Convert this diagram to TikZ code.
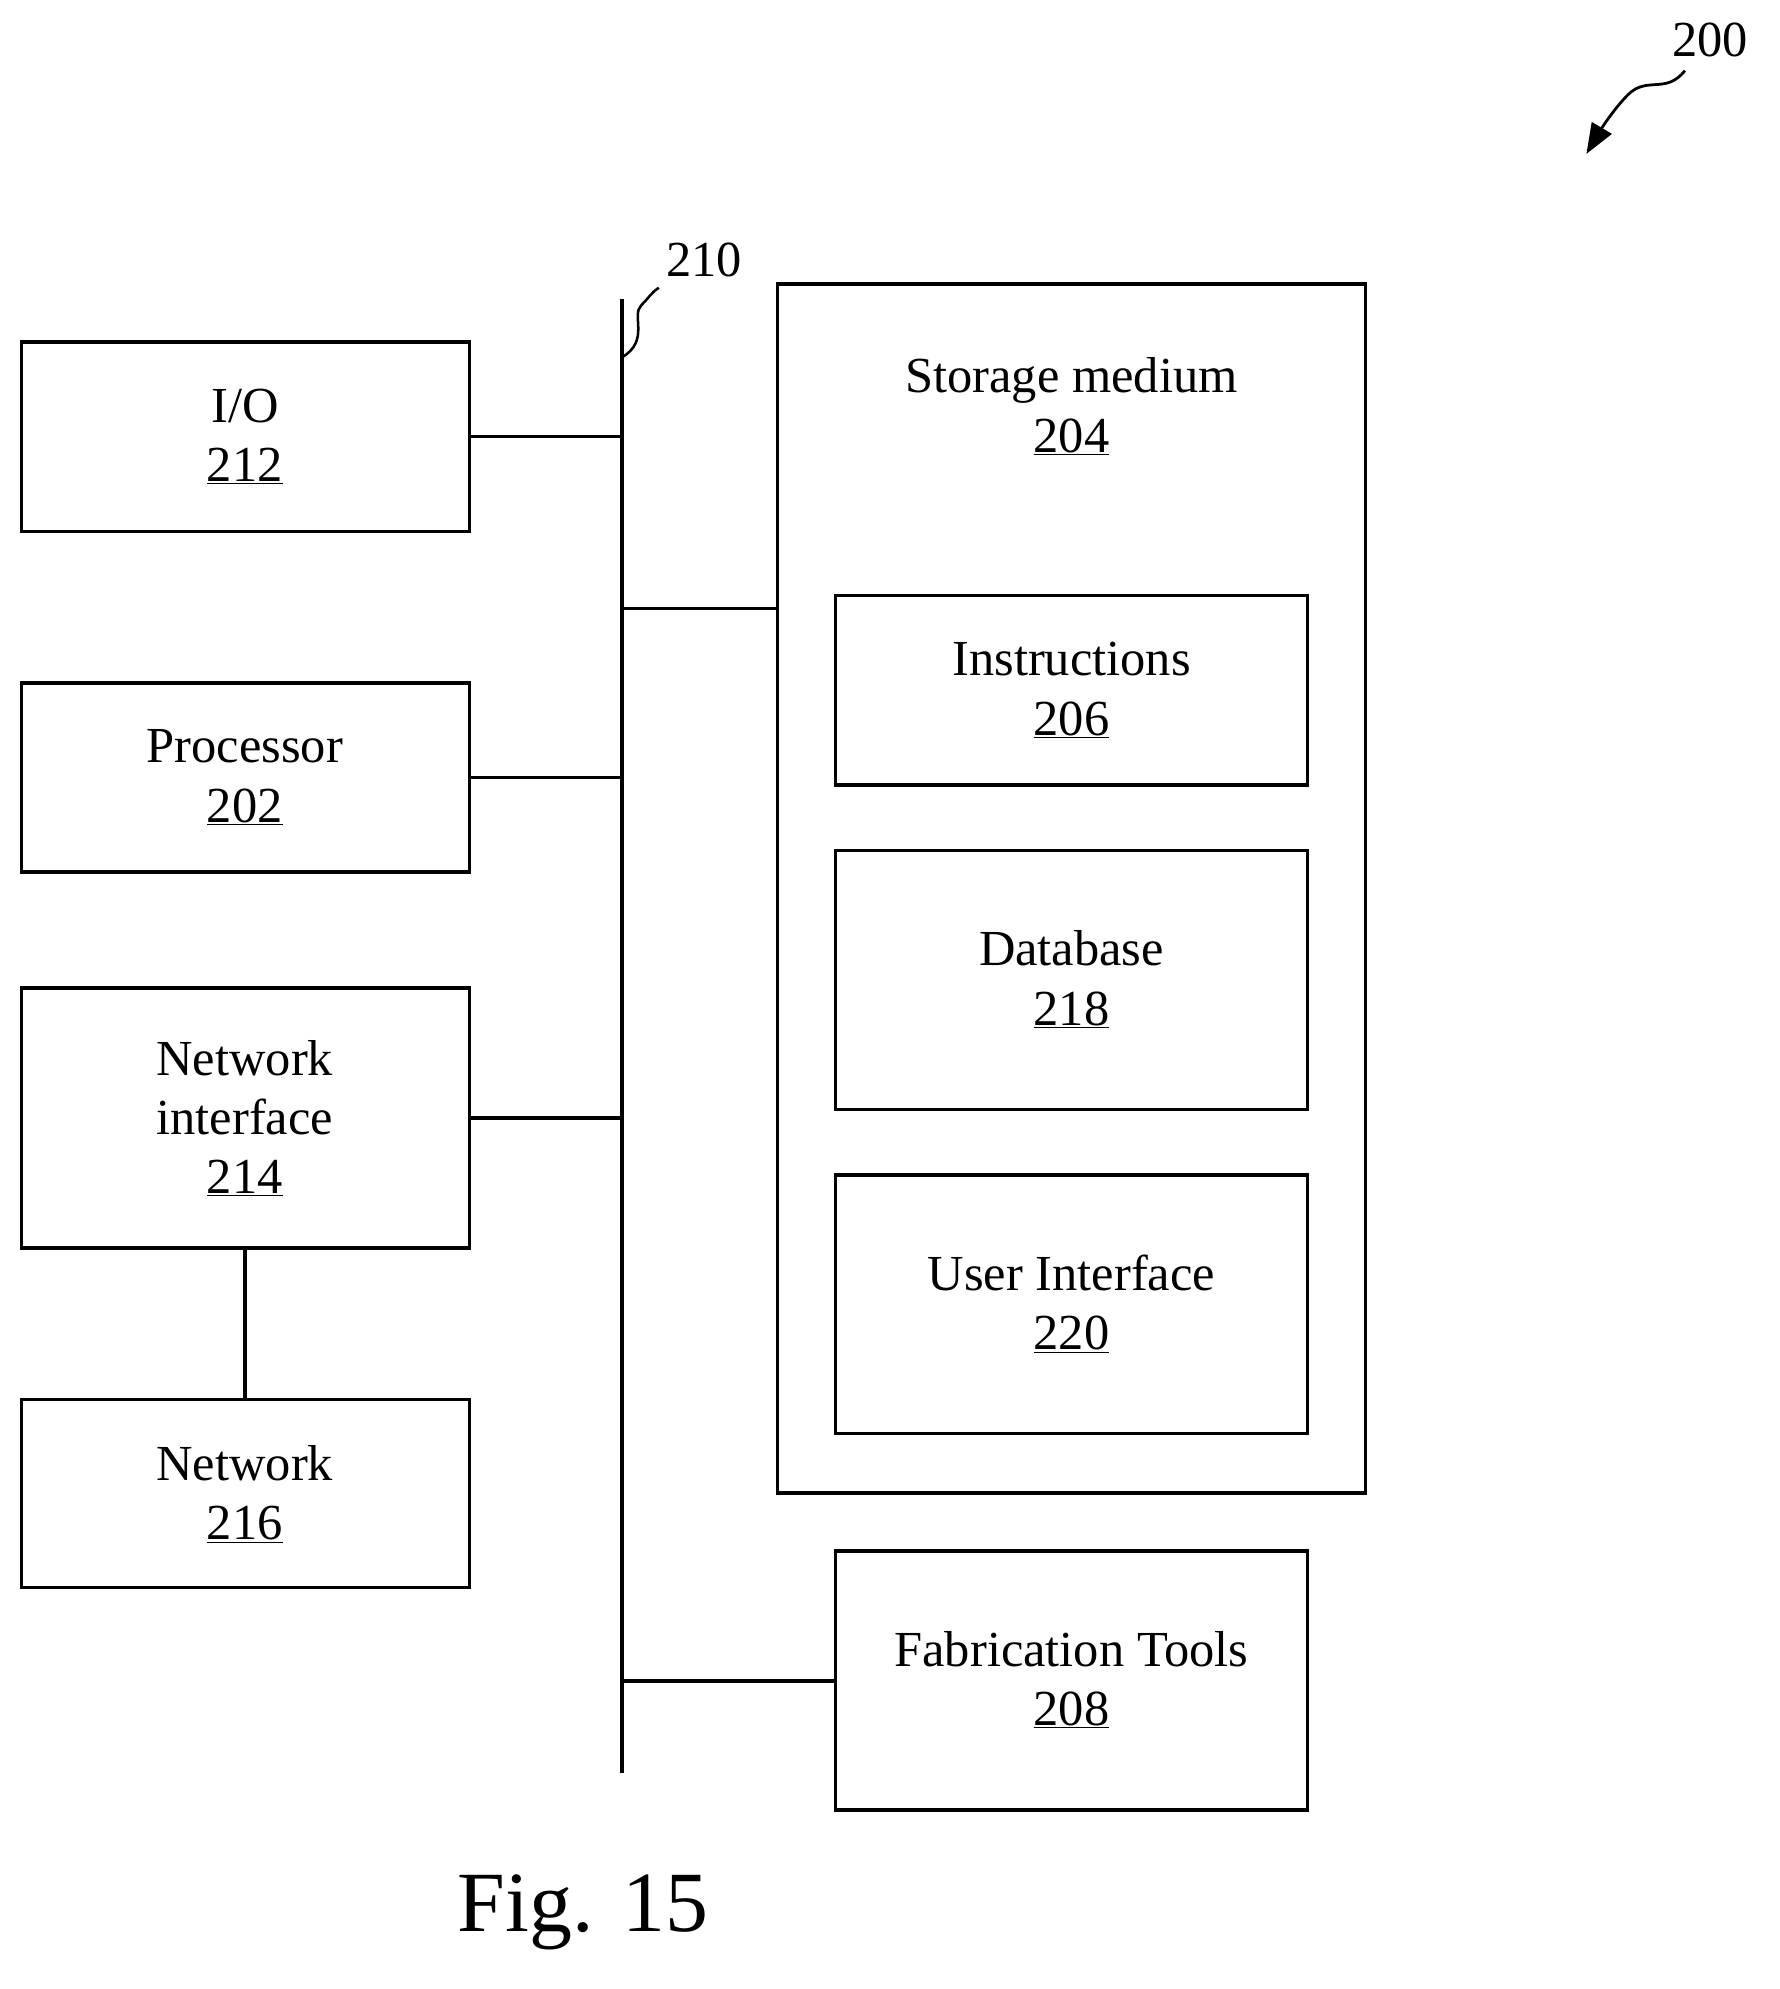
\documentclass[tikz,border=0pt]{standalone}
\usepackage{fontspec}
\setmainfont{Liberation Serif}
\usetikzlibrary{arrows.meta}
\begin{document}
\begin{tikzpicture}[x=1pt,y=-1pt,line width=2.8pt,
  box/.style={draw,line width=2.8pt},
  lbl/.style={font=\fontsize{40}{47}\selectfont,align=center,inner sep=0pt},
  con/.style={line width=2.8pt}]
\useasboundingbox (0,0) rectangle (1410,1576);
\newcommand{\un}[1]{\underline{#1}}
% boxes
\draw[box] (17,271) rectangle (372,421); \node[lbl] (io) at (194,346) {I/O\\\un{212}};
\draw[box] (17,541) rectangle (372,691); \node[lbl] (proc) at (194,616) {Processor\\\un{202}};
\draw[box] (17,783) rectangle (372,989); \node[lbl] (ni) at (194,886) {Network\\interface\\\un{214}};
\draw[box] (17,1109) rectangle (372,1258); \node[lbl] (net) at (194,1184) {Network\\\un{216}};
\draw[box] (616,225) rectangle (1082,1183); \node[lbl] (sm) at (849,322) {Storage medium\\\un{204}};
\draw[box] (662,472) rectangle (1036,622); \node[lbl] (ins) at (849,547) {Instructions\\\un{206}};
\draw[box] (662,674) rectangle (1036,879); \node[lbl] (db) at (849,776) {Database\\\un{218}};
\draw[box] (662,931) rectangle (1036,1136); \node[lbl] (ui) at (849,1033) {User Interface\\\un{220}};
\draw[box] (662,1229) rectangle (1036,1434); \node[lbl] (fab) at (849,1331) {Fabrication Tools\\\un{208}};
% bus
\coordinate (bt) at (493,237); \coordinate (bb) at (493,1405);
\draw[con] (bt) -- (bb);
\draw[con] (372,346) -- (493,346);
\draw[con] (372,616) -- (493,616);
\draw[con] (372,886) -- (493,886);
\draw[con] (493,482) -- (616,482);
\draw[con] (493,1332) -- (662,1332);
\draw[con] (194,989) -- (194,1109);
% labels
\node[lbl] (l210) at (558,206) {210};
\draw[line width=2pt] (493,283) .. controls (515,270) and (500,250) .. (508,242) .. controls (514,236) and (516,232) .. (522,228);
\node[lbl] (l200) at (1355,32) {200};
\draw[line width=2.2pt,-{Triangle[length=24pt,width=18pt]}] (1335,56) .. controls (1320,75) and (1305,60) .. (1290,75) .. controls (1280,85) and (1270,100) .. (1257,122);
\node[font=\fontsize{68}{76}\selectfont,inner sep=0pt] (fig) at (462,1515) {Fig. 15};
\end{tikzpicture}
\end{document}
